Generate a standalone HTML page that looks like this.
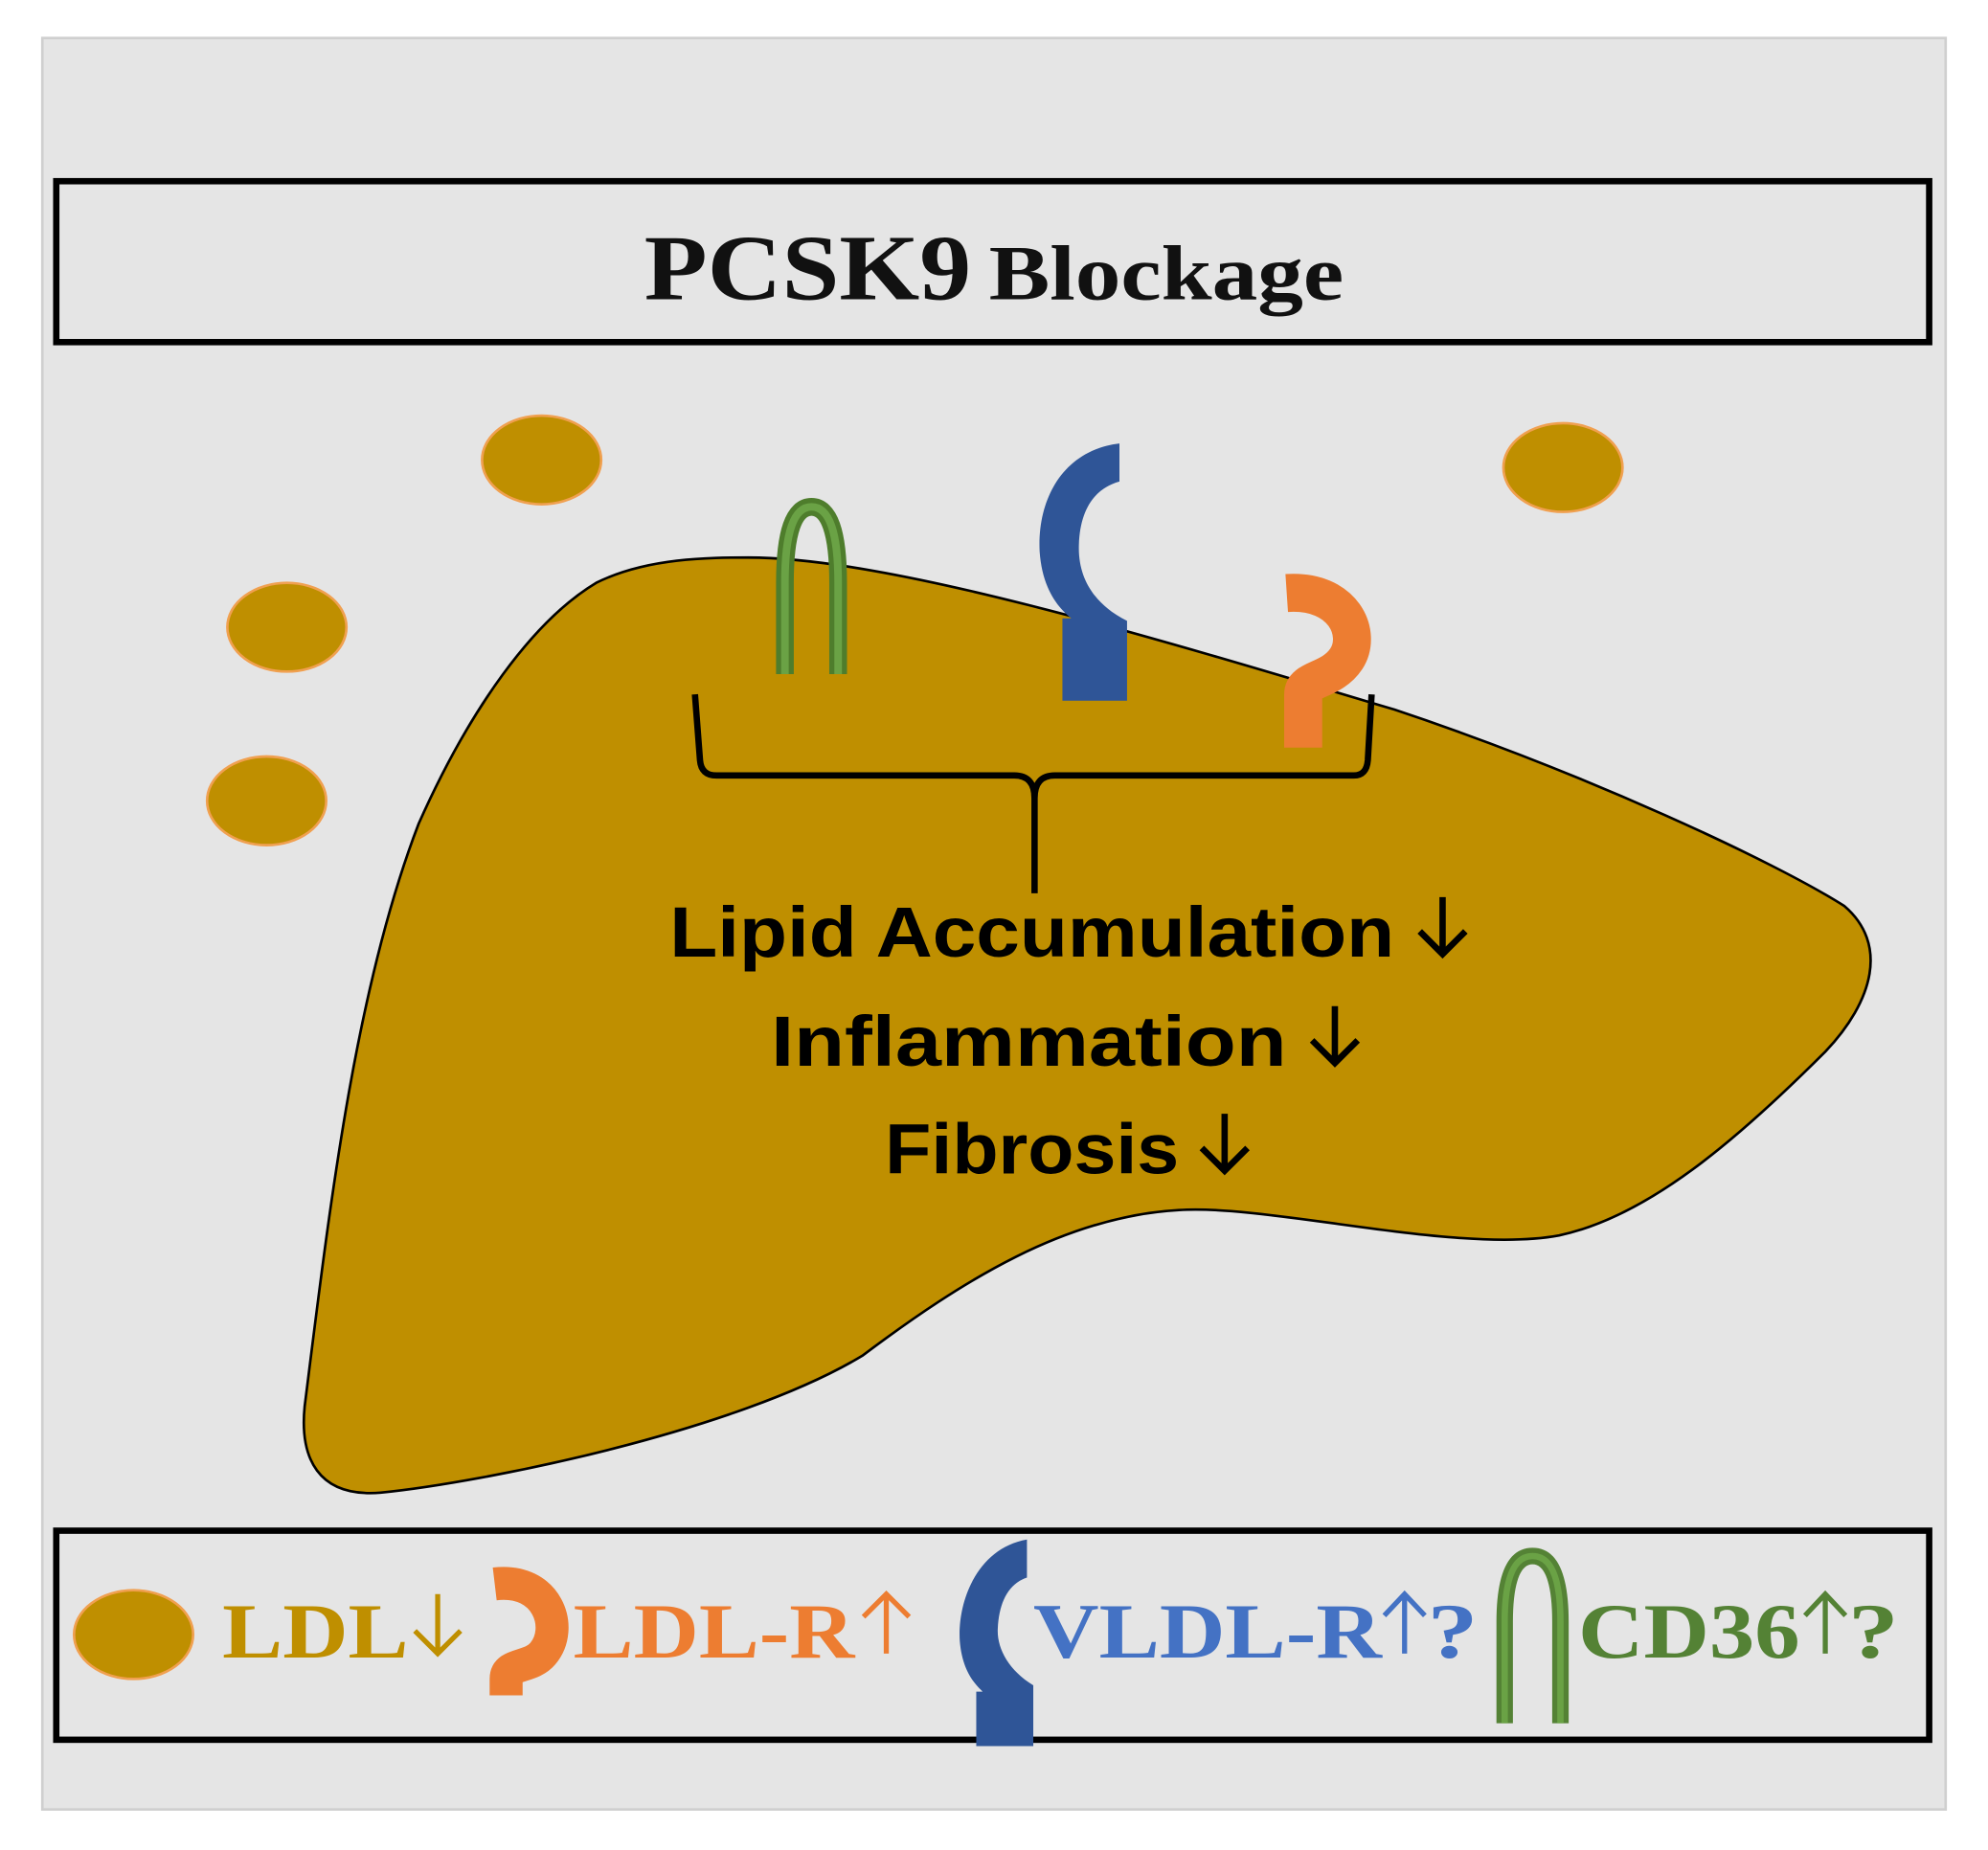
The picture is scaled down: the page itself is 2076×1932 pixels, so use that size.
<!DOCTYPE html>
<html><head><meta charset="utf-8"><style>html,body{margin:0;padding:0;background:#fff}svg{display:block}</style></head>
<body>
<svg width="2076" height="1932" viewBox="0 0 1568 1460" xmlns="http://www.w3.org/2000/svg">
<rect x="33" y="30" width="1502" height="1398" fill="#e5e5e5" stroke="#cfcfcf" stroke-width="2"/>
<rect x="44" y="143" width="1478" height="127" fill="none" stroke="#000" stroke-width="5"/>
<text x="508" y="236" font-family="Liberation Serif, serif" font-weight="bold" fill="#111"><tspan font-size="74" textLength="258" lengthAdjust="spacingAndGlyphs">PCSK9</tspan><tspan x="780" font-size="62" textLength="280" lengthAdjust="spacingAndGlyphs">Blockage</tspan></text>

<path d="M590 440 C700 440,900 500,1100 560 C1250 610,1400 680,1455 715 C1490 745,1478 790,1440 830 C1370 900,1300 960,1230 975 C1150 990,1000 950,930 955 C840 960,760 1010,680 1070 C580 1130,380 1170,300 1178 C250 1182,236 1150,240 1110 C260 950,280 780,330 650 C370 560,420 490,470 460 C510 440,560 440,590 440 Z" fill="#bf8f00" stroke="#000" stroke-width="2"/>

<g fill="#bf8f00" stroke="#f0a050" stroke-width="2">
<ellipse cx="427" cy="363" rx="47" ry="35"/>
<ellipse cx="226" cy="495" rx="47" ry="35"/>
<ellipse cx="210" cy="632" rx="47" ry="35"/>
<ellipse cx="1233" cy="369" rx="47" ry="35"/>
<ellipse cx="105" cy="1290" rx="47" ry="35"/>
</g>

<path d="M619 532 L619 460 Q619 400 640 400 Q661 400 661 460 L661 532" fill="none" stroke="#4e7d2c" stroke-width="14"/>
<path d="M619 532 L619 460 Q619 400 640 400 Q661 400 661 460 L661 532" fill="none" stroke="#6aa245" stroke-width="6"/>

<path d="M883 350 C840 355,818 392,820 435 C822 465,835 480,845 488 L838 488 L838 553 L889 553 L889 490 C865 478,850 458,851 430 C852 400,865 385,883 380 Z" fill="#2f5597"/>
<path d="M1015 468 C1060 465,1075 500,1062 520 C1050 538,1028 535,1028 548 L1028 590" fill="none" stroke="#ed7d31" stroke-width="30"/>

<path d="M548 548 L552 600 Q553 612 565 612 L800 612 Q816 612 816 630 L816 705 M816 630 Q816 612 832 612 L1068 612 Q1078 612 1079 600 L1082 548" fill="none" stroke="#000" stroke-width="5"/>

<g font-family="Liberation Sans, sans-serif" font-weight="bold" fill="#000" font-size="56">
<text x="528" y="755" textLength="572" lengthAdjust="spacingAndGlyphs">Lipid Accumulation</text>
<text x="608" y="841" textLength="407" lengthAdjust="spacingAndGlyphs">Inflammation</text>
<text x="698" y="926" textLength="232" lengthAdjust="spacingAndGlyphs">Fibrosis</text>
</g>
<g fill="none" stroke="#000" stroke-width="5">
<path d="M1138 708 L1138 753 M1120 735 L1138 753 L1156 735"/>
<path d="M1053 794 L1053 839 M1035 821 L1053 839 L1071 821"/>
<path d="M966 879 L966 924 M948 906 L966 924 L984 906"/>
</g>

<rect x="44" y="1208" width="1478" height="165" fill="none" stroke="#000" stroke-width="5"/>
<g font-family="Liberation Serif, serif" font-weight="bold" font-size="62">
<text x="175" y="1308" fill="#bf8f00" textLength="147" lengthAdjust="spacingAndGlyphs">LDL</text>
<text x="452" y="1308" fill="#ed7d31" textLength="222" lengthAdjust="spacingAndGlyphs">LDL-R</text>
<text x="815" y="1308" fill="#4472c4" textLength="275" lengthAdjust="spacingAndGlyphs">VLDL-R</text>
<text x="1126" y="1308" fill="#4472c4" textLength="40" lengthAdjust="spacingAndGlyphs">?</text>
<text x="1245" y="1308" fill="#548235" textLength="175" lengthAdjust="spacingAndGlyphs">CD36</text>
<text x="1458" y="1308" fill="#548235" textLength="40" lengthAdjust="spacingAndGlyphs">?</text>
</g>
<g fill="none" stroke-width="4">
<path d="M345 1258 L345 1305 M327 1287 L345 1305 L363 1287" stroke="#bf8f00"/>
<path d="M699 1305 L699 1258 M681 1276 L699 1258 L717 1276" stroke="#ed7d31"/>
<path d="M1108 1305 L1108 1258 M1092 1275 L1108 1258 L1124 1275" stroke="#4472c4"/>
<path d="M1440 1305 L1440 1258 M1424 1275 L1440 1258 L1456 1275" stroke="#548235"/>
</g>
<path d="M390 1250 C432 1245,445 1285,428 1305 C418 1317,399 1312,399 1325 L399 1338" fill="none" stroke="#ed7d31" stroke-width="26"/>
<path d="M810 1215 C770 1222,755 1265,757 1295 C759 1320,770 1330,775 1335 L770 1335 L770 1378 L815 1378 L815 1330 C795 1318,786 1300,787 1285 C788 1265,795 1250,810 1245 Z" fill="#2f5597"/>
<path d="M1187 1360 L1187 1280 Q1187 1228 1209 1228 Q1231 1228 1231 1280 L1231 1360" fill="none" stroke="#548235" stroke-width="13"/>
<path d="M1187 1360 L1187 1280 Q1187 1228 1209 1228 Q1231 1228 1231 1280 L1231 1360" fill="none" stroke="#6aa245" stroke-width="5"/>
</svg>
</body></html>
